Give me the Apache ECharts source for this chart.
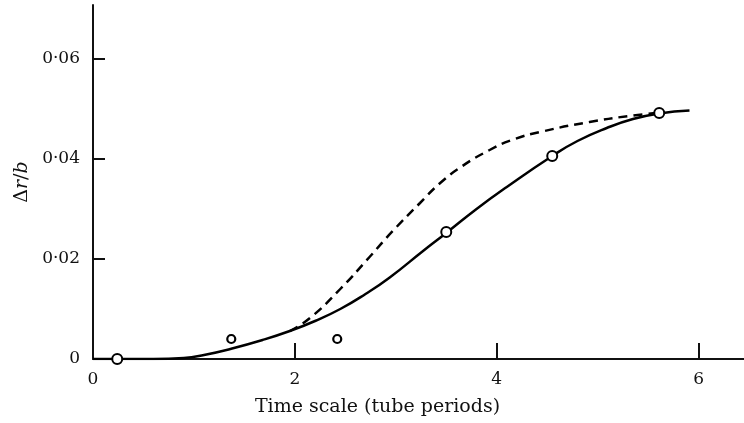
<!DOCTYPE html>
<html>
<head>
<meta charset="utf-8">
<script src="https://cdn.jsdelivr.net/npm/echarts@6/dist/echarts.min.js"></script>
<style>
  html, body { margin: 0; padding: 0; background: #fff; }
  #chart { width: 744px; height: 423px; }
</style>
</head>
<body>
<div id="chart"></div>
<script>
// 实线（计算曲线）
var solidX = [0, 0.6, 0.9, 1.1, 1.36, 1.68, 1.95, 2.2, 2.45, 2.7, 2.94, 3.27, 3.5, 3.8, 4.1, 4.55, 4.8, 5.09, 5.35, 5.61, 5.91];
var solidY = [0, 0, 0.0002, 0.0008, 0.0020, 0.0038, 0.0056, 0.0076, 0.0100, 0.0130, 0.0163, 0.0216, 0.0252, 0.0300, 0.0344, 0.0406, 0.0436, 0.0462, 0.0480, 0.0491, 0.0497];
// 虚线
var dashX = [1.95, 2.15, 2.45, 2.74, 2.97, 3.24, 3.44, 3.66, 3.93, 4.15, 4.43, 4.92, 5.35, 5.61];
var dashY = [0.0056, 0.0082, 0.0140, 0.0204, 0.0256, 0.0312, 0.0352, 0.0386, 0.0418, 0.0438, 0.0454, 0.0474, 0.0487, 0.0492];
// 实测点
var pointX = [0.24, 3.50, 4.55, 5.61];
var pointY = [0, 0.0254, 0.0406, 0.0492];
var smallPointX = [1.37, 2.42];
var smallPointY = [0.004, 0.004];
// 刻度
var xTicks = [0, 2, 4, 6];
var yTicks = [0, 0.02, 0.04, 0.06];

function pairs(xs, ys) {
  var out = [];
  for (var i = 0; i < xs.length; i++) out.push([xs[i], ys[i]]);
  return out;
}

var serif = '"DejaVu Serif", "Liberation Serif", serif';
var myChart = echarts.init(document.getElementById('chart'));

var option = {
  animation: false,
  backgroundColor: '#fff',
  grid: { left: 93, right: 0, top: 5, bottom: 64 },
  xAxis: {
    type: 'value',
    min: 0,
    max: 6.45,
    interval: 2,
    name: 'Time scale (tube periods)',
    nameLocation: 'middle',
    nameGap: 39,
    nameTextStyle: { fontFamily: serif, fontSize: 19, color: '#111', padding: [0, 82, 0, 0] },
    axisLine: { lineStyle: { color: '#111', width: 2 } },
    axisTick: { inside: true, length: 16, lineStyle: { color: '#111', width: 2 }, customValues: [2, 4, 6] },
    axisLabel: { fontFamily: serif, fontSize: 17, color: '#111', margin: 12, customValues: xTicks },
    splitLine: { show: false }
  },
  yAxis: {
    type: 'value',
    min: 0,
    max: 0.0708,
    interval: 0.02,
    name: '{d|Δ}{i|r}{d|/}{i|b}',
    nameLocation: 'middle',
    nameRotate: 90,
    nameGap: 56,
    nameTextStyle: {
      rich: {
        d: { fontFamily: serif, fontSize: 19, color: '#111' },
        i: { fontFamily: serif, fontSize: 19, fontStyle: 'italic', color: '#111' }
      }
    },
    axisLine: { lineStyle: { color: '#111', width: 2 } },
    axisTick: { inside: true, length: 12, lineStyle: { color: '#111', width: 2 }, customValues: [0.02, 0.04, 0.06] },
    axisLabel: {
      fontFamily: serif, fontSize: 17, color: '#111', margin: 13,
      customValues: yTicks,
      formatter: function (v) {
        if (v === 0) return '0';
        return v.toFixed(2).replace('.', '·');
      }
    },
    splitLine: { show: false }
  },
  series: [
    {
      type: 'line',
      data: pairs(solidX, solidY),
      smooth: 0.5,
      showSymbol: false,
      lineStyle: { color: '#000', width: 2.5 },
      z: 2
    },
    {
      type: 'line',
      data: pairs(dashX, dashY),
      smooth: 0.5,
      showSymbol: false,
      lineStyle: { color: '#000', width: 2.5, type: [9, 6] },
      z: 2
    },
    {
      type: 'scatter',
      data: pairs(pointX, pointY),
      symbol: 'circle',
      symbolSize: 10,
      itemStyle: { color: '#fff', borderColor: '#000', borderWidth: 2, opacity: 1 },
      z: 3
    },
    {
      type: 'scatter',
      data: pairs(smallPointX, smallPointY),
      symbol: 'circle',
      symbolSize: 8,
      itemStyle: { color: '#fff', borderColor: '#000', borderWidth: 2.2, opacity: 1 },
      z: 3
    }
  ]
};

myChart.setOption(option);
</script>
</body>
</html>
